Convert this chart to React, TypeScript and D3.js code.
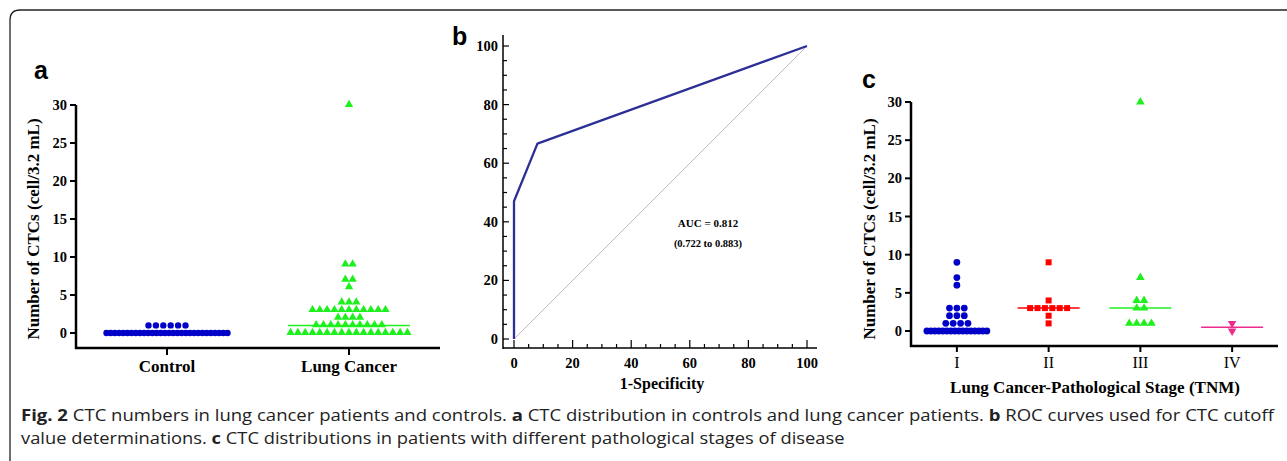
import React, {useLayoutEffect, useRef, useState} from "react";
import * as d3 from "d3";

// panel a: CTC counts per subject
const controlValues = [...Array(30).fill(0), 1, 1, 1, 1, 1, 1];
const lungCancerValues = [
  ...Array(17).fill(0), ...Array(10).fill(1), ...Array(4).fill(2), ...Array(11).fill(3),
  4, 4, 4, 6, 7, 7, 9, 9, 30,
];
const groupsA = ["Control", "Lung Cancer"];

// panel b: ROC curve (1-specificity, sensitivity)
const rocPoints: [number, number][] = [[0, 0], [0, 47], [8, 66.7], [100, 100]];
const aucText = "AUC = 0.812";
const ciText = "(0.722 to 0.883)";

// panel c: by TNM stage
const stages = ["I", "II", "III", "IV"];
const stageValues = [
  [...Array(16).fill(0), 1, 1, 1, 1, 2, 2, 2, 3, 3, 3, 6, 7, 9],
  [1, 2, 3, 3, 3, 3, 3, 3, 4, 9],
  [1, 1, 1, 1, 3, 3, 4, 4, 7, 30],
  [0, 1],
];

const yTicks = [0, 5, 10, 15, 20, 25, 30];
const rocTicks = [0, 20, 40, 60, 80, 100];

const serif = "'Liberation Serif', 'Times New Roman', serif";
const sans = "'Liberation Sans', Arial, sans-serif";

// spread points of equal value side by side around the category centre
function swarm(values: number[], step: number, maxWidth: number) {
  const groups = d3.group(values, v => v);
  const out: {v: number; dx: number}[] = [];
  groups.forEach((arr, v) => {
    const n = arr.length;
    const s = n > 1 ? Math.min(step, maxWidth / (n - 1)) : 0;
    arr.forEach((_, i) => out.push({v, dx: (i - (n - 1) / 2) * s}));
  });
  return out;
}

const YLeftAxis = ({y, x, ticks, size}: {y: d3.ScaleLinear<number, number>; x: number; ticks: number[]; size: number}) => (
  <g>
    {ticks.map(t => (
      <g key={t}>
        <line x1={x - 6} x2={x} y1={y(t)} y2={y(t)} stroke="#000" strokeWidth={2} />
        <text x={x - 9} y={y(t)} dy="0.35em" textAnchor="end" fontFamily={serif} fontWeight="bold" fontSize={size}>{t}</text>
      </g>
    ))}
  </g>
);

const PanelA = () => {
  const x = d3.scalePoint<string>().domain(groupsA).range([76, 440]).padding(0.5);
  const y = d3.scaleLinear().domain([0, 30]).range([333, 105]);
  const circle = d3.symbol(d3.symbolCircle, 32)()!;
  const tri = d3.symbol(d3.symbolTriangle, 30)()!;
  const cx = x("Control")!, lx = x("Lung Cancer")!;
  return (
    <g>
      <text x={34} y={79} fontFamily={sans} fontWeight="bold" fontSize={25}>a</text>
      {swarm(controlValues, 7.4, 121).map((d, i) => (
        <path key={"c" + i} d={circle} transform={`translate(${cx + d.dx},${y(d.v)})`} fill="#0000c8" />
      ))}
      {swarm(lungCancerValues, 7.3, 121).map((d, i) => (
        <path key={"l" + i} d={tri} transform={`translate(${lx + d.dx},${y(d.v) - 0.5})`} fill="#1ef01e" />
      ))}
      <line x1={cx - 61} x2={cx + 61} y1={y(d3.median(controlValues)!)} y2={y(d3.median(controlValues)!)} stroke="#0000c8" strokeWidth={1.5} />
      <line x1={lx - 61} x2={lx + 61} y1={y(d3.median(lungCancerValues)!)} y2={y(d3.median(lungCancerValues)!)} stroke="#1ef01e" strokeWidth={1.5} />
      <line x1={76} x2={76} y1={y(30)} y2={349} stroke="#000" strokeWidth={2.5} />
      <line x1={75} x2={440} y1={348} y2={348} stroke="#000" strokeWidth={2.5} />
      <YLeftAxis y={y} x={76} ticks={yTicks} size={14.5} />
      {groupsA.map(g => (
        <g key={g}>
          <line x1={x(g)} x2={x(g)} y1={348} y2={355} stroke="#000" strokeWidth={2} />
          <text x={x(g)} y={372} textAnchor="middle" fontFamily={serif} fontWeight="bold" fontSize={17}>{g}</text>
        </g>
      ))}
      <text transform="translate(39,229) rotate(-90)" textAnchor="middle" fontFamily={serif} fontWeight="bold" fontSize={17}>
        Number of CTCs (cell/3.2 mL)
      </text>
    </g>
  );
};

const PanelB = () => {
  const x = d3.scaleLinear().domain([0, 100]).range([514, 807]);
  const y = d3.scaleLinear().domain([0, 100]).range([339, 46]);
  const minor = d3.range(0, 101, 5);
  const line = d3.line<[number, number]>().x(d => x(d[0])).y(d => y(d[1]));
  return (
    <g>
      <text x={452} y={45} fontFamily={sans} fontWeight="bold" fontSize={25}>b</text>
      <line x1={x(0)} y1={y(0)} x2={x(100)} y2={y(100)} stroke="#cdbdbd" strokeWidth={1} />
      <path d={line(rocPoints)!} fill="none" stroke="#2b2f96" strokeWidth={2.3} strokeLinejoin="round" />
      <line x1={503} x2={503} y1={35} y2={349} stroke="#000" strokeWidth={1.5} />
      <line x1={503} x2={817} y1={348} y2={348} stroke="#000" strokeWidth={1.5} />
      {minor.map(t => {
        const major = t % 20 === 0;
        return (
          <g key={t}>
            <line x1={503} x2={503 + (major ? 6 : 4)} y1={y(t)} y2={y(t)} stroke="#000" strokeWidth={1.2} />
            <line x1={x(t)} x2={x(t)} y1={348} y2={348 - (major ? 8 : 4)} stroke="#000" strokeWidth={1.2} />
          </g>
        );
      })}
      {rocTicks.map(t => (
        <g key={t}>
          <text x={498} y={y(t)} dy="0.35em" textAnchor="end" fontFamily={serif} fontWeight="bold" fontSize={14.5}>{t}</text>
          <text x={x(t)} y={368} textAnchor="middle" fontFamily={serif} fontWeight="bold" fontSize={14.5}>{t}</text>
        </g>
      ))}
      <text x={662} y={389} textAnchor="middle" fontFamily={serif} fontWeight="bold" fontSize={16}>1-Specificity</text>
      <text x={708} y={227} textAnchor="middle" fontFamily={serif} fontWeight="bold" fontSize={11}>{aucText}</text>
      <text x={708} y={247} textAnchor="middle" fontFamily={serif} fontWeight="bold" fontSize={10.5}>{ciText}</text>
    </g>
  );
};

const stageStyle = [
  {sym: d3.symbol(d3.symbolCircle, 36)()!, color: "#0000c8", rot: 0},
  {sym: d3.symbol(d3.symbolSquare, 36)()!, color: "#ff0000", rot: 0},
  {sym: d3.symbol(d3.symbolTriangle, 32)()!, color: "#1ef01e", rot: 0},
  {sym: d3.symbol(d3.symbolTriangle, 32)()!, color: "#ee2a8a", rot: 180},
];

const PanelC = () => {
  const x = d3.scalePoint<string>().domain(stages).range([911, 1278]).padding(0.5);
  const y = d3.scaleLinear().domain([0, 30]).range([331, 102]);
  return (
    <g>
      <text x={862} y={88} fontFamily={sans} fontWeight="bold" fontSize={25}>c</text>
      {stages.map((s, si) => {
        const st = stageStyle[si];
        const m = d3.median(stageValues[si])!;
        return (
          <g key={s}>
            {swarm(stageValues[si], 7.4, 60).map((d, i) => (
              <path key={i} d={st.sym} transform={`translate(${x(s)! + d.dx},${y(d.v)}) rotate(${st.rot})`} fill={st.color} />
            ))}
            <line x1={x(s)! - 31} x2={x(s)! + 31} y1={y(m)} y2={y(m)} stroke={st.color} strokeWidth={1.5} />
          </g>
        );
      })}
      <line x1={911} x2={911} y1={y(30)} y2={347} stroke="#000" strokeWidth={2.5} />
      <line x1={910} x2={1278} y1={346} y2={346} stroke="#000" strokeWidth={2.5} />
      <YLeftAxis y={y} x={911} ticks={yTicks} size={14.5} />
      {stages.map(s => (
        <g key={s}>
          <line x1={x(s)} x2={x(s)} y1={346} y2={352} stroke="#000" strokeWidth={2} />
          <text x={x(s)} y={368} textAnchor="middle" fontFamily={serif} fontSize={16}>{s}</text>
        </g>
      ))}
      <text x={1095} y={393} textAnchor="middle" fontFamily={serif} fontWeight="bold" fontSize={17}>
        Lung Cancer-Pathological Stage (TNM)
      </text>
      <text transform="translate(875,229) rotate(-90)" textAnchor="middle" fontFamily={serif} fontWeight="bold" fontSize={17}>
        Number of CTCs (cell/3.2 mL)
      </text>
    </g>
  );
};

// caption line squeezed horizontally to the width it has in the figure
const CaptionLine = ({y, width, children}: {y: number; width: number; children: React.ReactNode}) => {
  const ref = useRef<SVGTextElement | null>(null);
  const [k, setK] = useState(1);
  useLayoutEffect(() => {
    if (ref.current) {
      const w = ref.current.getBBox().width;
      if (w > 0) setK(width / w);
    }
  }, [width]);
  return (
    <g transform={`translate(21,${y}) scale(${k},1)`}>
      <text ref={ref} x={0} y={0} fontFamily="'Open Sans', 'Noto Sans', sans-serif" fontSize={16.5} fill="#222">
        {children}
      </text>
    </g>
  );
};

export default function App() {
  return (
    <svg width={1287} height={461} style={{position: "absolute", left: 0, top: 0, background: "#fff"}}>
      <path d="M10,461 L10,20 Q10,10 20,10 L1287,10" fill="none" stroke="#222" strokeWidth={1.3} />
      <PanelA />
      <PanelB />
      <PanelC />
      <CaptionLine y={421} width={1255}>
        <tspan fontWeight="bold">Fig. 2</tspan>
        <tspan>{"  CTC numbers in lung cancer patients and controls. "}</tspan>
        <tspan fontWeight="bold">a</tspan>
        <tspan>{" CTC distribution in controls and lung cancer patients. "}</tspan>
        <tspan fontWeight="bold">b</tspan>
        <tspan>{" ROC curves used for CTC cutoff"}</tspan>
      </CaptionLine>
      <CaptionLine y={444} width={824}>
        <tspan>{"value determinations. "}</tspan>
        <tspan fontWeight="bold">c</tspan>
        <tspan>{" CTC distributions in patients with different pathological stages of disease"}</tspan>
      </CaptionLine>
    </svg>
  );
}
